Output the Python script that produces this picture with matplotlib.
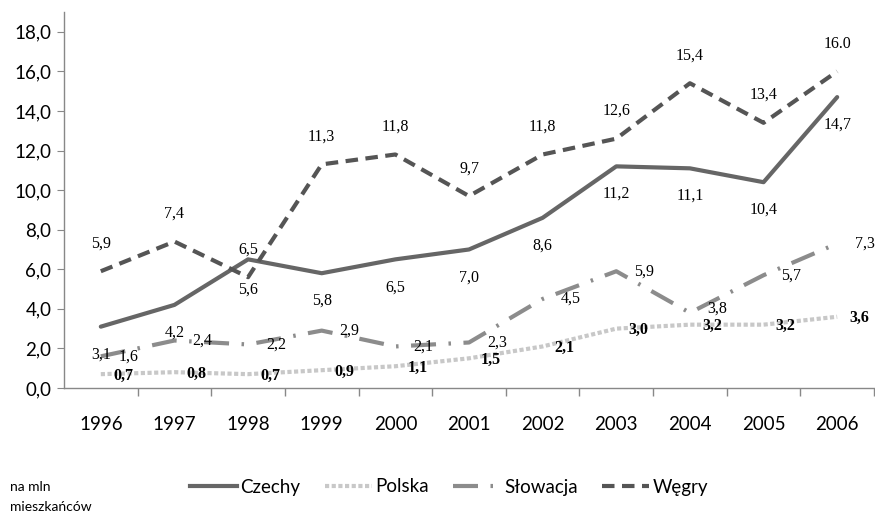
import matplotlib.pyplot as plt
from matplotlib.lines import Line2D

## ----- DATA ------ ##
years = ["1996", "1997", "1998", "1999", "2000", "2001", "2002", "2003", "2004", "2005", "2006"]
czechy = [3.1, 4.2, 6.5, 5.8, 6.5, 7.0, 8.6, 11.2, 11.1, 10.4, 14.7]
polska = [0.7, 0.8, 0.7, 0.9, 1.1, 1.5, 2.1, 3.0, 3.2, 3.2, 3.6]
slowacja = [1.6, 2.4, 2.2, 2.9, 2.1, 2.3, 4.5, 5.9, 3.8, 5.7, 7.3]
wegry = [5.9, 7.4, 5.6, 11.3, 11.8, 9.7, 11.8, 12.6, 15.4, 13.4, 16.0]
y_ticks = [0, 2, 4, 6, 8, 10, 12, 14, 16, 18]

sans = ['Lato', 'DejaVu Sans']
serif = ['Liberation Serif', 'DejaVu Serif']

fig = plt.figure(figsize=(8.75, 5.14), dpi=100)
ax = fig.add_axes([64 / 875, 126 / 514, 810 / 875, 376 / 514])

x = list(range(len(years)))

ax.plot(x, czechy, color='#666666', lw=3, solid_capstyle='round', zorder=3)
ax.plot(x, polska, color='#c8c8c8', lw=3, linestyle=(0, (1, 0.6)), zorder=2)
ax.plot(x, slowacja, color='#8c8c8c', lw=3, linestyle=(0, (6, 3, 0.6, 3)), zorder=2)
ax.plot(x, wegry, color='#555555', lw=3, linestyle=(0, (3, 1.8)), zorder=3)

def fmt(v):
    return f"{v:.1f}".replace('.', ',')

# data labels
for i, v in enumerate(czechy):
    dy = 7 if i == 2 else -20
    ax.annotate(fmt(v), (i, v), xytext=(0, dy), textcoords='offset points',
                ha='center', va='center', fontsize=11.5, family=serif)
for i, v in enumerate(wegry):
    dy = -9 if i == 2 else 20
    lab = "16.0" if i == 10 else fmt(v)
    ax.annotate(lab, (i, v), xytext=(0, dy), textcoords='offset points',
                ha='center', va='center', fontsize=11.5, family=serif)
for i, v in enumerate(slowacja):
    dy = 3 if i == 8 else 0
    ax.annotate(fmt(v), (i, v), xytext=(20, dy), textcoords='offset points',
                ha='center', va='center', fontsize=11.5, family=serif)
for i, v in enumerate(polska):
    ax.annotate(fmt(v), (i, v), xytext=(16, -1), textcoords='offset points',
                ha='center', va='center', fontsize=11.5, family=serif,
                fontweight='bold')

ax.set_xlim(-0.5, len(years) - 0.5)
ax.set_ylim(0, 19)
ax.set_yticks(y_ticks)
ax.set_yticklabels([fmt(v) for v in y_ticks], family=sans, fontsize=13.5)
ax.set_xticks(x)
ax.set_xticklabels(years, family=sans, fontsize=13.5)
ax.tick_params(axis='x', length=0, pad=20)
ax.set_xticks([i + 0.5 for i in x], minor=True)
ax.tick_params(axis='x', which='minor', length=6, color='#888888', width=1)
ax.tick_params(axis='y', length=5, color='#888888', pad=4)

for s in ['top', 'right']:
    ax.spines[s].set_visible(False)
for s in ['left', 'bottom']:
    ax.spines[s].set_color('#888888')
    ax.spines[s].set_linewidth(1)

# legend
handles = [
    Line2D([], [], color='#666666', lw=3),
    Line2D([], [], color='#c8c8c8', lw=3, linestyle=(0, (1, 0.6))),
    Line2D([], [], color='#8c8c8c', lw=3, linestyle=(0, (6, 3, 0.6, 3))),
    Line2D([], [], color='#555555', lw=3, linestyle=(0, (3, 1.8))),
]
labels = ["Czechy", "Polska", "Słowacja", "Węgry"]
fig.legend(handles, labels, loc='center', bbox_to_anchor=(449 / 875, 1 - 487 / 514),
           ncol=4, frameon=False, prop={'family': sans, 'size': 13.5},
           handlelength=2.5, handletextpad=0.2, columnspacing=1.3)

fig.text(10 / 875, 1 - 487 / 514, "na mln", family=sans, fontsize=10, va='center')
fig.text(10 / 875, 1 - 507 / 514, "mieszkańców", family=sans, fontsize=10, va='center')

fig.savefig("out.png", dpi=100)
